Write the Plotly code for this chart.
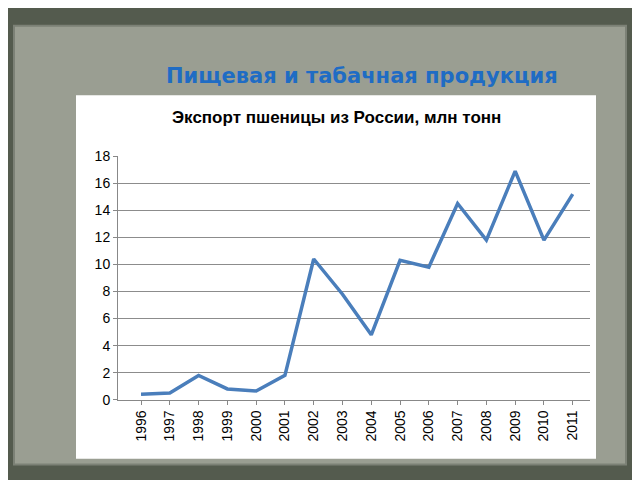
import plotly.graph_objects as go

years = ["1996", "1997", "1998", "1999", "2000", "2001", "2002", "2003",
         "2004", "2005", "2006", "2007", "2008", "2009", "2010", "2011"]
export_mt = [0.4, 0.5, 1.8, 0.8, 0.65, 1.8, 10.4, 7.8,
             4.8, 10.3, 9.8, 14.5, 11.8, 16.9, 11.8, 15.2]
y_ticks = [0, 2, 4, 6, 8, 10, 12, 14, 16, 18]

W, H = 640, 480
OFF = 8  # page body margin shifts the figure

def px(x):
    return (x - OFF) / W

def py(y):
    return 1 - (y - OFF) / H

fig = go.Figure(go.Scatter(
    x=list(range(len(years))), y=export_mt, mode="lines",
    line=dict(color="#4a7ebb", width=3.5), hoverinfo="x+y"))

shapes = [
    # slide panel
    dict(type="rect", xref="paper", yref="paper", layer="below",
         x0=px(14), x1=px(626), y0=py(472), y1=py(18),
         fillcolor="#9a9e92", line=dict(color="#7c8176", width=2)),
    # white chart area
    dict(type="rect", xref="paper", yref="paper", layer="below",
         x0=px(76), x1=px(596), y0=py(466), y1=py(90),
         fillcolor="white", line=dict(width=0)),
]

fig.update_layout(
    width=W, height=H, margin=dict(l=0, r=0, t=0, b=0),
    paper_bgcolor="#545b4e", plot_bgcolor="rgba(0,0,0,0)",
    showlegend=False, shapes=shapes,
    font=dict(family="Liberation Sans, Arial", color="black"),
    annotations=[
        dict(text="<b>Пищевая и табачная продукция</b>", x=px(362), y=py(70),
             xref="paper", yref="paper", showarrow=False, yanchor="middle",
             font=dict(size=21, color="#1f6cc4", family="DejaVu Sans")),
        dict(text="<b>Экспорт пшеницы из России, млн тонн</b>", x=px(336), y=py(113),
             xref="paper", yref="paper", showarrow=False, yanchor="middle",
             font=dict(size=17, color="black")),
    ],
    xaxis=dict(domain=[px(118), px(590)], range=[-0.8, 15.6],
               tickvals=list(range(len(years))), ticktext=years, tickangle=-90,
               showgrid=False, zeroline=False, showline=True,
               linecolor="#888", ticks="outside", ticklen=4, tickcolor="#888",
               tickfont=dict(size=14)),
    yaxis=dict(domain=[py(405), py(153)], range=[0, 18], tickvals=y_ticks,
               showgrid=True, gridcolor="#8c8c8c", gridwidth=1,
               zeroline=False, showline=True, linecolor="#888",
               ticks="outside", ticklen=4, tickcolor="#888",
               tickfont=dict(size=14)),
)

fig.write_html("out.html")
